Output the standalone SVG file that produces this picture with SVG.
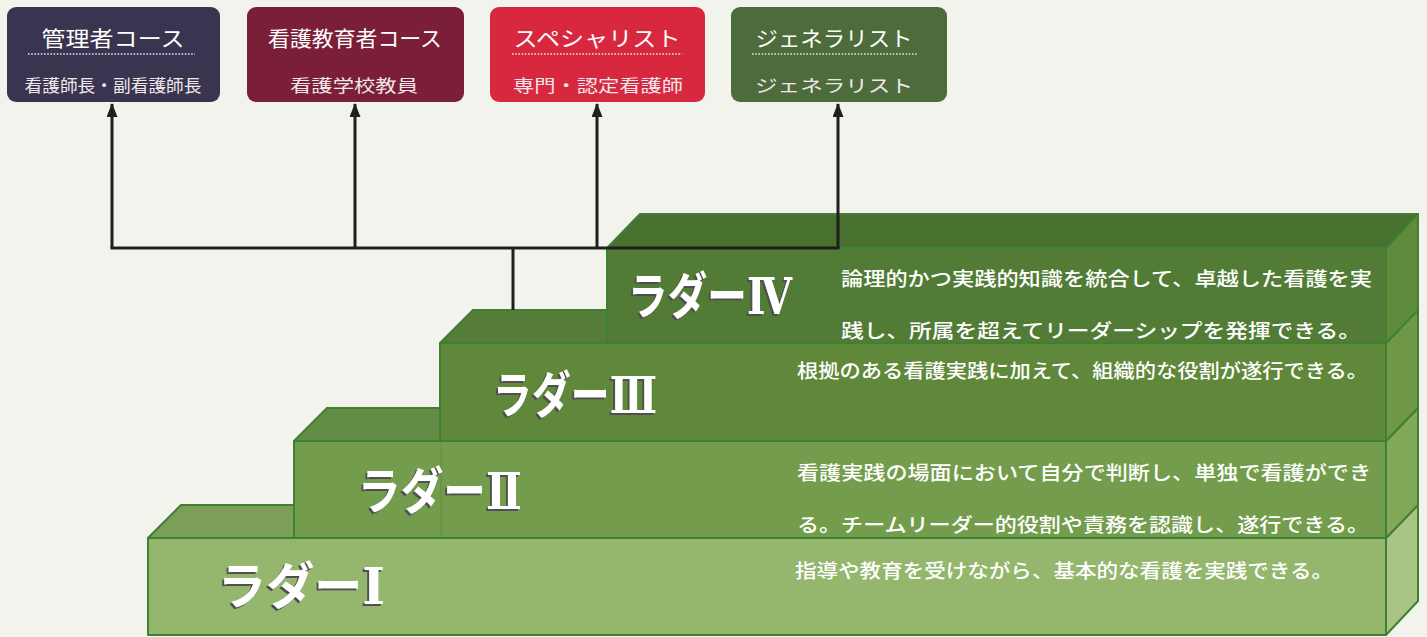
<svg xmlns="http://www.w3.org/2000/svg" width="1427" height="637" viewBox="0 0 1427 637">
<defs>
<style>
.box-title{font-family:"Noto Sans CJK JP","Noto Sans",sans-serif;font-size:21px;fill:#ffffff;text-anchor:middle}
.box-sub{font-family:"Noto Sans CJK JP","Noto Sans",sans-serif;font-size:17.5px;fill:#f1e6ea;text-anchor:middle}
.dots{stroke:#e8e0e4;stroke-width:1.6;stroke-dasharray:1.6 1.6;fill:none}
.desc{font-family:"Noto Sans CJK JP","Noto Sans",sans-serif;font-size:19px;fill:#ffffff;font-weight:500}
.lbl{font-family:"DejaVu Serif","Noto Sans CJK JP",sans-serif;font-size:50px;font-weight:700;fill:#ffffff;filter:url(#shadow)}
.edge{stroke:#3f8034;stroke-width:2;stroke-linejoin:round}
.conn{stroke:#1f1f1f;stroke-width:3;fill:none}
.seam{stroke:#4a8a3c;stroke-width:1;opacity:0.6}
</style>
<filter id="shadow" x="-3%" y="-4%" width="104%" height="108%">
<feFlood flood-color="#505050"/>
<feComposite in2="SourceAlpha" operator="in"/>
<feOffset dx="-2" dy="2" result="sh"/>
<feMerge><feMergeNode in="sh"/><feMergeNode in="SourceGraphic"/></feMerge>
</filter>
<marker id="arrow" viewBox="0 0 14 11" refX="13" refY="5.5" markerWidth="14" markerHeight="11" markerUnits="userSpaceOnUse" orient="auto">
<path d="M0,0 L14,5.5 L0,11 Z" fill="#1f1f1f"/>
</marker>
</defs>
<rect x="0" y="0" width="1427" height="637" fill="#f3f3ee"/>

<!-- top course boxes -->
<g id="node-kanri">
<rect x="7" y="7" width="213" height="95" rx="9" fill="#39344f"/>
<text class="box-title" x="113" y="46" textLength="143" lengthAdjust="spacingAndGlyphs">管理者コース</text>
<line class="dots" x1="28" y1="54" x2="195" y2="54"/>
<text class="box-sub" x="113" y="92" textLength="177" lengthAdjust="spacingAndGlyphs">看護師長・副看護師長</text>
</g>
<g id="node-kyoiku">
<rect x="247" y="7" width="217" height="95" rx="9" fill="#7a1f37"/>
<text class="box-title" x="355" y="46" textLength="174" lengthAdjust="spacingAndGlyphs">看護教育者コース</text>
<text class="box-sub" x="354" y="92" textLength="128" lengthAdjust="spacingAndGlyphs">看護学校教員</text>
</g>
<g id="node-specialist">
<rect x="490" y="7" width="215" height="95" rx="9" fill="#d8283f"/>
<text class="box-title" x="597" y="46" textLength="167" lengthAdjust="spacingAndGlyphs">スペシャリスト</text>
<line class="dots" x1="512" y1="54" x2="682" y2="54"/>
<text class="box-sub" x="598" y="92" textLength="170" lengthAdjust="spacingAndGlyphs">専門・認定看護師</text>
</g>
<g id="node-generalist">
<rect x="731" y="7" width="216" height="95" rx="9" fill="#4d6b3b"/>
<text class="box-title" x="834" y="46" textLength="157" lengthAdjust="spacingAndGlyphs">ジェネラリスト</text>
<line class="dots" x1="752" y1="54" x2="918" y2="54"/>
<text class="box-sub" x="834" y="92" textLength="158" lengthAdjust="spacingAndGlyphs" fill="#eef0e6">ジェネラリスト</text>
</g>

<!-- Ladder I -->
<g id="step1">
<polygon points="148,538 181,505 1418,505 1386,538" fill="#7b9e58" class="edge"/>
<rect x="148" y="538" width="1238" height="97" fill="#94b66d" class="edge"/>
<polygon points="1386,538 1418,505 1418,601 1386,635" fill="#a8c583" class="edge"/>
<text class="lbl" x="218" y="604" textLength="167" lengthAdjust="spacingAndGlyphs">ラダーⅠ</text>
<text class="desc" x="795" y="578" textLength="538" lengthAdjust="spacingAndGlyphs">指導や教育を受けながら、基本的な看護を実践できる。</text>
</g>

<!-- Ladder II -->
<g id="step2">
<polygon points="294,441 327,408 1418,408 1386,441" fill="#638c44" class="edge"/>
<rect x="294" y="441" width="1092" height="97" fill="#739d4c" class="edge"/>
<polygon points="1386,441 1418,408 1418,505 1386,538" fill="#82a85a" class="edge"/>
<line class="seam" x1="441" y1="442" x2="441" y2="537"/>
<text class="lbl" x="358" y="509" textLength="164" lengthAdjust="spacingAndGlyphs">ラダーⅡ</text>
<text class="desc" x="797" y="480" textLength="574" lengthAdjust="spacingAndGlyphs">看護実践の場面において自分で判断し、単独で看護ができ</text>
<text class="desc" x="797" y="532" textLength="572" lengthAdjust="spacingAndGlyphs">る。チームリーダー的役割や責務を認識し、遂行できる。</text>
</g>

<!-- Ladder III -->
<g id="step3">
<polygon points="440,343 473,310 1418,310 1386,343" fill="#557c38" class="edge"/>
<rect x="440" y="343" width="946" height="98" fill="#5f883b" class="edge"/>
<polygon points="1386,343 1418,310 1418,408 1386,441" fill="#6e9845" class="edge"/>
<line class="seam" x1="607" y1="344" x2="607" y2="440"/>
<text class="lbl" x="493" y="413" textLength="164" lengthAdjust="spacingAndGlyphs">ラダーⅢ</text>
<text class="desc" x="797" y="378" textLength="571" lengthAdjust="spacingAndGlyphs">根拠のある看護実践に加えて、組織的な役割が遂行できる。</text>
</g>

<!-- Ladder IV -->
<g id="step4">
<polygon points="607,248 640,214 1418,214 1386,248" fill="#48702f" class="edge"/>
<rect x="607" y="248" width="779" height="95" fill="#527c35" class="edge"/>
<polygon points="1386,248 1418,214 1418,310 1386,343" fill="#5f8c3c" class="edge"/>
<text class="lbl" x="628" y="314" textLength="164" lengthAdjust="spacingAndGlyphs">ラダーⅣ</text>
<text class="desc" x="841" y="286" textLength="531" lengthAdjust="spacingAndGlyphs">論理的かつ実践的知識を統合して、卓越した看護を実</text>
<text class="desc" x="841" y="338" textLength="520" lengthAdjust="spacingAndGlyphs">践し、所属を超えてリーダーシップを発揮できる。</text>
</g>

<!-- connectors -->
<g id="connectors">
<line class="conn" x1="513" y1="310" x2="513" y2="248"/>
<line class="conn" x1="110.5" y1="248" x2="839.5" y2="248"/>
<line class="conn" x1="112" y1="248" x2="112" y2="104" marker-end="url(#arrow)"/>
<line class="conn" x1="355" y1="248" x2="355" y2="104" marker-end="url(#arrow)"/>
<line class="conn" x1="597" y1="248" x2="597" y2="104" marker-end="url(#arrow)"/>
<line class="conn" x1="838" y1="248" x2="838" y2="104" marker-end="url(#arrow)"/>
</g>
</svg>
